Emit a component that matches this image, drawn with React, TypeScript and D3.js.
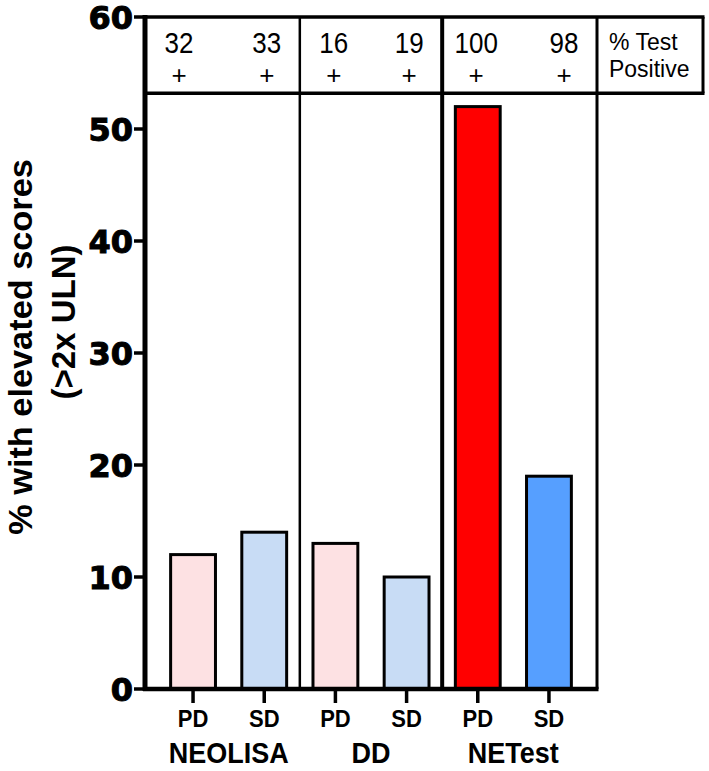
import React, { useEffect, useRef } from 'react'
import * as d3 from 'd3'

// % of patients with elevated scores (>2x ULN)
const groups = ['NEOLISA', 'DD', 'NETest']
const subgroups = ['PD', 'SD']
const elevatedPD = [12, 13, 52]
const elevatedSD = [14, 10, 19]
// % test positive, shown in the table over the bars
const testPositivePD = [32, 16, 100]
const testPositiveSD = [33, 19, 98]
const yTicks = [0, 10, 20, 30, 40, 50, 60]

const fillPD = ['#fde1e3', '#fde1e3', '#ff0000']
const fillSD = ['#c8dcf5', '#c8dcf5', '#569fff']

const W = 709
const H = 771

export default function App() {
  const ref = useRef<SVGSVGElement>(null)

  useEffect(() => {
    const svg = d3.select(ref.current)
    svg.selectAll('*').remove()

    const left = 145
    const right = 597
    const tableRight = 703

    const keys: string[] = []
    groups.forEach((g) => subgroups.forEach((s) => keys.push(g + '-' + s)))
    const data = keys.map((k, i) => {
      const gi = Math.floor(i / 2)
      const isPD = i % 2 === 0
      return {
        key: k,
        group: groups[gi],
        sub: subgroups[i % 2],
        value: isPD ? elevatedPD[gi] : elevatedSD[gi],
        fill: isPD ? fillPD[gi] : fillSD[gi],
      }
    })

    const x = d3.scaleBand<string>().domain(keys).range([left, right]).paddingInner(0.37).paddingOuter(0.36)
    const y = d3.scaleLinear().domain([0, 60]).range([689, 17])
    const bw = x.bandwidth()

    // divider positions between groups
    const dividers: number[] = []
    for (let i = 0; i < groups.length - 1; i++) {
      const a = (x(groups[i] + '-SD') as number) + bw
      const b = x(groups[i + 1] + '-PD') as number
      dividers.push((a + b) / 2)
    }
    const cellEdges = [left, ...dividers, right]

    const tableTop = y(60)
    const tableBottom = y(53.2)

    //bars
    svg.append('g')
      .selectAll('rect')
      .data(data)
      .enter().append('rect')
      .attr('x', (d) => x(d.key) as number)
      .attr('y', (d) => y(d.value))
      .attr('width', bw)
      .attr('height', (d) => y(0) - y(d.value))
      .attr('fill', (d) => d.fill)
      .attr('stroke', '#000')
      .attr('stroke-width', 3)

    //vertical dividers
    dividers.forEach((dx, i) => {
      svg.append('line')
        .attr('x1', dx).attr('x2', dx)
        .attr('y1', tableTop).attr('y2', y(0))
        .attr('stroke', '#000')
        .attr('stroke-width', i === 1 ? 4 : 2.5)
    })
    svg.append('line')
      .attr('x1', right).attr('x2', right)
      .attr('y1', tableTop).attr('y2', y(0))
      .attr('stroke', '#000').attr('stroke-width', 3)

    //table frame
    svg.append('line')
      .attr('x1', left).attr('x2', tableRight + 1.5)
      .attr('y1', tableTop).attr('y2', tableTop)
      .attr('stroke', '#000').attr('stroke-width', 3.5)
    svg.append('line')
      .attr('x1', left).attr('x2', tableRight + 1.5)
      .attr('y1', tableBottom).attr('y2', tableBottom)
      .attr('stroke', '#000').attr('stroke-width', 3.5)
    svg.append('line')
      .attr('x1', tableRight).attr('x2', tableRight)
      .attr('y1', tableTop).attr('y2', tableBottom)
      .attr('stroke', '#000').attr('stroke-width', 3)

    //table text
    const font = "'Liberation Sans', Arial, sans-serif"
    groups.forEach((g, gi) => {
      const cl = cellEdges[gi]
      const cr = cellEdges[gi + 1]
      const cols = [
        { cx: cl + 34, v: testPositivePD[gi] },
        { cx: cr - 33, v: testPositiveSD[gi] },
      ]
      cols.forEach((c) => {
        svg.append('text')
          .attr('transform', 'translate(' + c.cx + ',53) scale(1,1.12)')
          .attr('text-anchor', 'middle')
          .attr('font-family', font)
          .attr('font-size', 26)
          .text(String(c.v))
        svg.append('text')
          .attr('x', c.cx).attr('y', 84)
          .attr('text-anchor', 'middle')
          .attr('font-family', font)
          .attr('font-size', 26)
          .text('+')
      })
    })
    svg.append('text')
      .attr('transform', 'translate(' + (right + 12) + ',50) scale(1,1.08)')
      .attr('font-family', font).attr('font-size', 23)
      .text('% Test')
    svg.append('text')
      .attr('transform', 'translate(' + (right + 12) + ',77) scale(1,1.08)')
      .attr('font-family', font).attr('font-size', 23)
      .text('Positive')

    //y axis
    const ya = svg.append('g')
    ya.append('line')
      .attr('x1', left).attr('x2', left)
      .attr('y1', y(60) - 2).attr('y2', y(0) + 2)
      .attr('stroke', '#000').attr('stroke-width', 5)
    ya.selectAll('line.tick')
      .data(yTicks)
      .enter().append('line')
      .attr('class', 'tick')
      .attr('x1', left - 11).attr('x2', left)
      .attr('y1', (d) => y(d)).attr('y2', (d) => y(d))
      .attr('stroke', '#000').attr('stroke-width', 3.5)
    ya.selectAll('text')
      .data(yTicks)
      .enter().append('text')
      .attr('x', left - 12)
      .attr('y', (d) => y(d))
      .attr('dy', '0.36em')
      .attr('text-anchor', 'end')
      .attr('font-family', "'DejaVu Sans', sans-serif")
      .attr('font-weight', 'bold')
      .attr('font-size', 32)
      .attr('stroke', '#000')
      .attr('stroke-width', 1)
      .text((d) => String(d))

    //x axis
    svg.append('line')
      .attr('x1', left - 2).attr('x2', right + 1.5)
      .attr('y1', y(0)).attr('y2', y(0))
      .attr('stroke', '#000').attr('stroke-width', 4.5)
    svg.selectAll('line.xtick')
      .data(data)
      .enter().append('line')
      .attr('class', 'xtick')
      .attr('x1', (d) => (x(d.key) as number) + bw / 2)
      .attr('x2', (d) => (x(d.key) as number) + bw / 2)
      .attr('y1', y(0)).attr('y2', y(0) + 14)
      .attr('stroke', '#000').attr('stroke-width', 3.5)
    svg.selectAll('text.sub')
      .data(data)
      .enter().append('text')
      .attr('class', 'sub')
      .attr('transform', (d) => 'translate(' + ((x(d.key) as number) + bw / 2) + ',727) scale(1,1.1)')
      .attr('text-anchor', 'middle')
      .attr('font-family', font)
      .attr('font-weight', 'bold')
      .attr('font-size', 22)
      .text((d) => d.sub)
    groups.forEach((g) => {
      const cx = ((x(g + '-PD') as number) + (x(g + '-SD') as number) + bw) / 2
      svg.append('text')
        .attr('transform', 'translate(' + cx + ',763) scale(1,1.1)')
        .attr('text-anchor', 'middle')
        .attr('font-family', font)
        .attr('font-weight', 'bold')
        .attr('font-size', 27)
        .text(g)
    })

    //y title
    svg.append('text')
      .attr('transform', 'translate(32,347) rotate(-90) scale(1.04,1)')
      .attr('text-anchor', 'middle')
      .attr('font-family', font)
      .attr('font-weight', 'bold')
      .attr('font-size', 33)
      .text('% with elevated scores')
    svg.append('text')
      .attr('transform', 'translate(75,322) rotate(-90)')
      .attr('text-anchor', 'middle')
      .attr('font-family', font)
      .attr('font-weight', 'bold')
      .attr('font-size', 33)
      .text('(>2x ULN)')
  }, [])

  return (
    <svg ref={ref} width={W} height={H} style={{ position: 'absolute', left: 0, top: 0, background: '#fff' }} />
  )
}
